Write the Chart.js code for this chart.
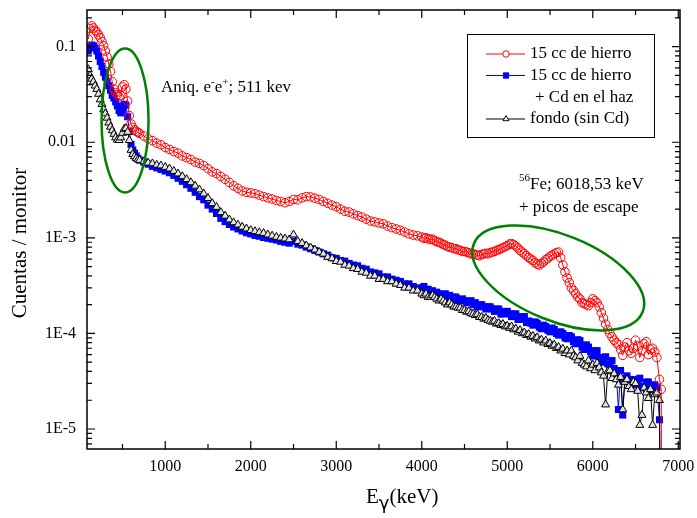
<!DOCTYPE html>
<html>
<head>
<meta charset="utf-8">
<script src="https://cdn.jsdelivr.net/npm/chart.js@4.4.0/dist/chart.umd.min.js"></script>
<style>
  body { margin: 0; background: #fff; }
  canvas { display: block; }
</style>
</head>
<body>
<canvas id="espectro" width="697" height="518"></canvas>
<script>
// Energías (keV) de los canales
var energia = [
  100, 120, 140, 160, 180, 200, 220, 240, 260, 280,
  300, 320, 340, 360, 380, 400, 420, 440, 460, 480,
  500, 520, 540, 560, 580, 600, 620, 640, 660, 680,
  700,
  750, 800, 850, 900, 950, 1000, 1050, 1100, 1150, 1200,
  1250, 1300, 1350, 1400, 1450, 1500, 1550, 1600, 1650, 1700,
  1750, 1800, 1850, 1900, 1950, 2000, 2050, 2100, 2150, 2200,
  2250, 2300, 2350, 2400, 2450, 2500, 2550, 2600, 2650, 2700,
  2750, 2800, 2850, 2900, 2950, 3000, 3050, 3100, 3150, 3200,
  3250, 3300, 3350, 3400, 3450, 3500, 3550, 3600, 3650, 3700,
  3750, 3800, 3850, 3900, 3950,
  4000, 4025, 4050, 4075, 4100, 4125, 4150, 4175, 4200, 4225,
  4250, 4275, 4300, 4325, 4350, 4375, 4400, 4425, 4450, 4475,
  4500, 4525, 4550, 4575, 4600, 4625, 4650, 4675, 4700, 4725,
  4750, 4775, 4800, 4825, 4850, 4875, 4900, 4925, 4950, 4975,
  5000, 5025, 5050, 5075, 5100, 5125, 5150, 5175, 5200, 5225,
  5250, 5275, 5300, 5325, 5350, 5375, 5400, 5425, 5450, 5475,
  5500, 5525, 5550, 5575, 5600, 5625, 5650, 5675, 5700, 5725,
  5750, 5775, 5800, 5825, 5850, 5875, 5900, 5925, 5950, 5975,
  6000, 6025, 6050, 6075, 6100, 6125, 6150, 6175, 6200, 6225,
  6250, 6275, 6300, 6325, 6350, 6375, 6400, 6425, 6450, 6475,
  6500, 6525, 6550, 6575, 6600, 6625, 6650, 6675, 6700, 6725,
  6750, 6780, 6800, 6810
];

// 15 cc de hierro
var hierro = [
  0.12, 0.155, 0.165, 0.157, 0.148, 0.142, 0.133, 0.124, 0.113, 0.102,
  0.09, 0.078, 0.066, 0.055, 0.043, 0.036, 0.033, 0.0315, 0.030, 0.031,
  0.038, 0.040, 0.036, 0.027, 0.019, 0.0155, 0.0143, 0.0135, 0.013, 0.0127,
  0.0124,
  0.0116, 0.0109, 0.0104, 0.0098, 0.0094, 0.0088, 0.0084, 0.0080, 0.0077, 0.0072,
  0.0069, 0.0066, 0.0062, 0.0060, 0.0057, 0.0053, 0.0049, 0.0047, 0.0044, 0.0041,
  0.0038, 0.0035, 0.0033, 0.0031, 0.0030, 0.00295, 0.0029, 0.0028, 0.0027, 0.00262,
  0.00255, 0.00246, 0.0024, 0.00233, 0.0024, 0.00252, 0.0025, 0.00262, 0.0027, 0.00268,
  0.0026, 0.00252, 0.0024, 0.0023, 0.0022, 0.00212, 0.0020, 0.0019, 0.00186, 0.00178,
  0.00171, 0.00165, 0.00157, 0.0015, 0.00147, 0.00143, 0.0014, 0.00133, 0.00128, 0.00124,
  0.0012, 0.00115, 0.0011, 0.00107, 0.00105,
  0.00102, 0.00099, 0.001, 0.00098, 0.00096, 0.00097, 0.00094, 0.00091, 0.0009, 0.00088,
  0.00085, 0.00084, 0.00081, 0.0008, 0.00079, 0.00077, 0.00077, 0.00075, 0.00074, 0.00072,
  0.00072, 0.00071, 0.0007, 0.00068, 0.00068, 0.00067, 0.00066, 0.00065, 0.00067, 0.00068,
  0.00069, 0.00068, 0.0007, 0.00071, 0.00072, 0.00074, 0.00075, 0.00077, 0.00079, 0.00081,
  0.00083, 0.00086, 0.00087, 0.00085, 0.00082, 0.00078, 0.00074, 0.00071, 0.00068, 0.00065,
  0.00062, 0.0006, 0.00058, 0.00055, 0.00053, 0.00052, 0.00054, 0.00056, 0.00059, 0.00061,
  0.00064, 0.00066, 0.00068, 0.0007, 0.00071, 0.00062, 0.00052, 0.00044, 0.00038, 0.00034,
  0.0003, 0.00028, 0.00026, 0.00024, 0.00023, 0.00021, 0.000205, 0.0002, 0.000195, 0.00021,
  0.00023, 0.00022, 0.00021, 0.00019, 0.000165, 0.000145, 0.000125, 0.00011, 0.0001, 0.000092,
  0.000085, 0.00008, 0.000076, 0.000068, 0.000059, 0.000072, 0.00008, 0.000066, 0.000062, 0.00007,
  0.000085, 0.000074, 0.000056, 0.000066, 0.000078, 0.000082, 0.00006, 0.000068, 0.00007, 0.000064,
  0.000056, 0.000033, 0.000026, 1e-7
];

// 15 cc de hierro + Cd en el haz
var hierroCd = [
  0.09, 0.1, 0.104, 0.102, 0.097, 0.09, 0.08, 0.07, 0.062, 0.054,
  0.048, 0.043, 0.039, 0.035, 0.031, 0.029, 0.0265, 0.024, 0.0215, 0.0203,
  0.022, 0.025, 0.0245, 0.0185, 0.013, 0.0095, 0.0083, 0.0077, 0.0072, 0.0068,
  0.0065,
  0.0062, 0.0059, 0.0056, 0.0054, 0.0052, 0.0050, 0.0048, 0.0045, 0.0042, 0.0039,
  0.0036, 0.0033, 0.0030, 0.0027, 0.0025, 0.0022, 0.0020, 0.0018, 0.0016, 0.00148,
  0.00138, 0.0013, 0.00124, 0.00118, 0.00113, 0.0011, 0.00106, 0.00104, 0.00101, 0.00099,
  0.00097, 0.00095, 0.00092, 0.0009, 0.00088, 0.00092, 0.00086, 0.00084, 0.0008, 0.00077,
  0.00074, 0.00071, 0.00068, 0.00066, 0.00062, 0.00061, 0.00058, 0.00057, 0.00054, 0.00052,
  0.00051, 0.00048, 0.00047, 0.00044, 0.00043, 0.00042, 0.00039, 0.00039, 0.00037, 0.00036,
  0.00035, 0.00033, 0.00033, 0.00031, 0.0003,
  0.00029, 0.00031, 0.00028, 0.00029, 0.00027, 0.00028, 0.00026, 0.00027, 0.00026, 0.00025,
  0.00025, 0.00026, 0.00024, 0.00025, 0.00023, 0.00024, 0.00024, 0.00022, 0.00022, 0.00023,
  0.00022, 0.00021, 0.00021, 0.00022, 0.0002, 0.00021, 0.00019, 0.0002, 0.0002, 0.00019,
  0.00018, 0.00019, 0.00019, 0.00018, 0.00017, 0.00018, 0.00018, 0.00016, 0.00016, 0.00017,
  0.00017, 0.00016, 0.00015, 0.00016, 0.00016, 0.00014, 0.00014, 0.00015, 0.00015, 0.00013,
  0.000135, 0.000128, 0.000122, 0.000132, 0.000128, 0.000116, 0.000112, 0.000122, 0.000118, 0.000108,
  0.000104, 0.000114, 0.00011, 0.0001, 0.000096, 0.000104, 0.0001, 0.00009, 0.000088, 0.000095,
  0.000092, 0.000082, 0.000078, 0.000086, 0.000084, 0.000072, 0.000068, 0.000076, 0.000072, 0.000064,
  0.000058, 0.000066, 0.000066, 0.000056, 0.00005, 0.000056, 0.000057, 0.000048, 0.000045, 0.000052,
  0.000043, 0.000038, 0.000016, 0.000041, 0.000014, 0.000034, 0.000036, 0.000031, 0.000033, 0.000029,
  0.000029, 0.000033, 0.000034, 0.000028, 0.000027, 0.000031, 0.000031, 0.000026, 0.000026, 0.000029,
  0.000027, 0.0000125, 1e-7, 1e-7
];

// fondo (sin Cd)
var fondo = [
  0.058, 0.05, 0.046, 0.043, 0.039, 0.036, 0.032, 0.028, 0.025, 0.022,
  0.02, 0.018, 0.016, 0.0145, 0.0133, 0.0122, 0.0112, 0.0106, 0.0105, 0.0112,
  0.0125, 0.0138, 0.014, 0.0128, 0.0105, 0.0083, 0.0075, 0.0071, 0.0068, 0.0066,
  0.0065,
  0.0063, 0.0061, 0.006, 0.0058, 0.0057, 0.0055, 0.0053, 0.005, 0.0047, 0.0044,
  0.0041, 0.0038, 0.0035, 0.0032, 0.0029, 0.0026, 0.0023, 0.0021, 0.00185, 0.0017,
  0.00155, 0.00145, 0.00137, 0.0013, 0.00125, 0.0012, 0.00117, 0.00114, 0.00112, 0.00108,
  0.00105, 0.00102, 0.001, 0.00098, 0.00096, 0.00108, 0.00092, 0.00088, 0.00083, 0.00079,
  0.00075, 0.00071, 0.00068, 0.00063, 0.00061, 0.00057, 0.00056, 0.00052, 0.00051, 0.00048,
  0.00047, 0.00044, 0.00043, 0.0004, 0.0004, 0.00037, 0.00037, 0.00035, 0.00035, 0.00033,
  0.00032, 0.0003, 0.0003, 0.00028, 0.00028,
  0.00026, 0.00025, 0.00026, 0.00024, 0.00024, 0.00025, 0.00024, 0.00023, 0.00022, 0.00023,
  0.00022, 0.00021, 0.0002, 0.00021, 0.0002, 0.00019, 0.00019, 0.000185, 0.000185, 0.000175,
  0.000175, 0.000168, 0.00017, 0.000162, 0.00016, 0.000155, 0.000158, 0.000148, 0.000148, 0.000142,
  0.000145, 0.000138, 0.000135, 0.000132, 0.000135, 0.000126, 0.000128, 0.000122, 0.000125, 0.000118,
  0.00012, 0.000114, 0.000118, 0.00011, 0.000112, 0.000104, 0.000108, 0.0001, 0.000102, 0.000096,
  0.000098, 0.000092, 0.000094, 0.000088, 0.000091, 0.000084, 0.000086, 0.00008, 0.000084, 0.000077,
  0.000079, 0.000074, 0.000076, 0.00007, 0.000072, 0.000066, 0.000069, 0.000062, 0.000066, 0.00006,
  0.000066, 0.000058, 0.000056, 0.000052, 0.000058, 0.000049, 0.000047, 0.000045, 0.000052, 0.000043,
  0.000047, 0.000041, 0.000049, 0.000044, 0.000039, 0.000036, 0.000018, 0.00004, 0.000041, 0.000034,
  0.000038, 0.000033, 0.000029, 0.000035, 0.000016, 0.000031, 0.000033, 0.000028, 0.000026, 0.000031,
  0.00003, 0.000025, 0.000011, 0.000014, 0.000027, 0.000024, 0.000021, 0.000026, 0.000011, 0.000023,
  0.000024, 0.00002, 1e-7, 1e-7
];

var etiquetasY = { '-1': '0.1', '-2': '0.01', '-3': '1E-3', '-4': '1E-4', '-5': '1E-5' };

var fuente = '"Liberation Serif", "Times New Roman", serif';
Chart.defaults.font.family = fuente;
Chart.defaults.color = '#000';

function puntos(valores) {
  return energia.map(function (e, i) { return { x: e, y: valores[i] }; });
}

// es potencia de 10?
function exponente(v) {
  var l = Math.log10(v);
  return Math.abs(l - Math.round(l)) < 1e-6 ? Math.round(l) : null;
}

// mantisa entera 1..9 (descarta 1.5, los bordes, etc.)
function esMarca(v) {
  var e = Math.floor(Math.log10(v) + 1e-9);
  var m = v / Math.pow(10, e);
  return Math.abs(m - Math.round(m)) < 1e-6;
}

// texto con super/subíndices
function textoTramos(ctx, x, y, tramos) {
  tramos.forEach(function (t) {
    ctx.font = t.size + 'px ' + (t.familia || fuente);
    ctx.fillText(t.t, x, y + (t.dy || 0));
    x += ctx.measureText(t.t).width + (t.sep || 0);
  });
}

var extras = {
  id: 'extras',
  afterDatasetsDraw: function (chart) {
    var ctx = chart.ctx, a = chart.chartArea, sx = chart.scales.x, sy = chart.scales.y;
    ctx.save();

    // elipses verdes
    ctx.strokeStyle = 'rgb(0,128,0)';
    ctx.lineWidth = 2.5;
    ctx.beginPath();
    ctx.ellipse(sx.getPixelForValue(530), sy.getPixelForValue(0.0169), 23.5, 72, 0, 0, Math.PI * 2);
    ctx.stroke();
    ctx.beginPath();
    ctx.ellipse(sx.getPixelForValue(5596), sy.getPixelForValue(0.000381), 91, 43, 22 * Math.PI / 180, 0, Math.PI * 2);
    ctx.stroke();

    // marco
    ctx.strokeStyle = '#000';
    ctx.lineWidth = 1.5;
    ctx.strokeRect(a.left, a.top, a.right - a.left, a.bottom - a.top);

    // marcas hacia dentro en los cuatro lados
    ctx.lineWidth = 1.2;
    ctx.beginPath();
    sx.ticks.forEach(function (t) {
      var px = sx.getPixelForValue(t.value);
      if (px <= a.left + 1 || px >= a.right - 1) return;
      var l = t.value % 1000 === 0 ? 8 : 5;
      ctx.moveTo(px, a.bottom); ctx.lineTo(px, a.bottom - l);
      ctx.moveTo(px, a.top); ctx.lineTo(px, a.top + l);
    });
    sy.ticks.forEach(function (t) {
      if (!esMarca(t.value)) return;
      var py = sy.getPixelForValue(t.value);
      if (py < a.top || py > a.bottom) return;
      var l = exponente(t.value) !== null ? 8 : 5;
      ctx.moveTo(a.left, py); ctx.lineTo(a.left + l, py);
      ctx.moveTo(a.right, py); ctx.lineTo(a.right - l, py);
    });
    ctx.stroke();

    // títulos de ejes
    ctx.fillStyle = '#000';
    ctx.textBaseline = 'alphabetic';
    textoTramos(ctx, 366, 503, [
      { t: 'E', size: 21 },
      { t: 'γ', size: 18, dy: 6, familia: '"DejaVu Sans", sans-serif' },
      { t: '(keV)', size: 21 }
    ]);
    ctx.save();
    ctx.translate(20, 243);
    ctx.rotate(-Math.PI / 2);
    ctx.font = '21px ' + fuente;
    ctx.textAlign = 'center';
    ctx.textBaseline = 'middle';
    ctx.fillText('Cuentas / monitor', 0, 0);
    ctx.restore();

    // anotaciones
    textoTramos(ctx, 161, 92, [
      { t: 'Aniq. e', size: 17 },
      { t: '-', size: 11, dy: -7 },
      { t: 'e', size: 17 },
      { t: '+', size: 11, dy: -7 },
      { t: '; 511 kev', size: 17 }
    ]);
    textoTramos(ctx, 519, 189, [
      { t: '56', size: 11, dy: -8 },
      { t: 'Fe; 6018,53 keV', size: 17 }
    ]);
    textoTramos(ctx, 519, 212, [{ t: '+ picos de escape', size: 17 }]);

    // leyenda
    var L = { x: 467.5, y: 34.5, w: 187, h: 103 };
    ctx.fillStyle = '#fff';
    ctx.fillRect(L.x, L.y, L.w, L.h);
    ctx.strokeStyle = '#000';
    ctx.lineWidth = 1;
    ctx.strokeRect(L.x, L.y, L.w, L.h);
    var filas = [
      { y: 54, ds: chart.data.datasets[0], texto: '15 cc de hierro', fondo: '#fff' },
      { y: 75.5, ds: chart.data.datasets[2], texto: '15 cc de hierro' },
      { y: 119, ds: chart.data.datasets[1], texto: 'fondo (sin Cd)', fondo: '#fff' }
    ];
    ctx.textBaseline = 'middle';
    filas.forEach(function (f) {
      ctx.strokeStyle = f.ds.borderColor;
      ctx.lineWidth = 1;
      ctx.beginPath();
      ctx.moveTo(486, f.y); ctx.lineTo(525, f.y);
      ctx.stroke();
      ctx.fillStyle = f.fondo || f.ds.backgroundColor;
      Chart.helpers.drawPoint(ctx, {
        pointStyle: f.ds.pointStyle, radius: f.ds.pointRadius * 0.75,
        borderWidth: 1, rotation: 0
      }, 506, f.y);
      ctx.fillStyle = '#000';
      ctx.font = '17px ' + fuente;
      ctx.fillText(f.texto, 530, f.y);
    });
    ctx.fillText('+ Cd en el haz', 535, 97.5);
    ctx.restore();
  }
};

new Chart(document.getElementById('espectro'), {
  type: 'scatter',
  data: {
    datasets: [
      {
        label: '15 cc de hierro',
        data: puntos(hierro),
        showLine: true,
        borderColor: 'rgb(255,0,0)',
        backgroundColor: 'rgba(255,255,255,0)',
        borderWidth: 1,
        pointStyle: 'circle',
        pointRadius: 4.3,
        pointBorderWidth: 1,
        order: 0
      },
      {
        label: 'fondo (sin Cd)',
        data: puntos(fondo),
        showLine: true,
        borderColor: '#000',
        backgroundColor: '#e4e4e4',
        borderWidth: 1,
        pointStyle: 'triangle',
        pointRadius: 4.6,
        pointBorderWidth: 1,
        order: 1
      },
      {
        label: '15 cc de hierro + Cd en el haz',
        data: puntos(hierroCd),
        showLine: true,
        borderColor: 'rgb(0,0,255)',
        backgroundColor: 'rgb(0,0,255)',
        borderWidth: 1,
        pointStyle: 'rect',
        pointRadius: 5,
        pointBorderWidth: 0,
        order: 2
      }
    ]
  },
  options: {
    responsive: false,
    animation: false,
    devicePixelRatio: 1,
    layout: { padding: { top: 10, right: 17, left: 0, bottom: 0 } },
    plugins: { legend: { display: false }, tooltip: { enabled: false } },
    scales: {
      x: {
        type: 'linear',
        min: 85,
        max: 7020,
        grid: { display: false },
        border: { display: false },
        afterFit: function (s) { s.height = 69; s.paddingLeft = 0; s.paddingRight = 0; },
        // marcas cada 500 keV, etiqueta cada 1000
        afterBuildTicks: function (s) {
          var t = [];
          for (var v = 500; v <= 7000; v += 500) t.push({ value: v });
          s.ticks = t;
        },
        ticks: {
          autoSkip: false,
          maxRotation: 0,
          padding: 0,
          font: { size: 16 },
          callback: function (v) { return v % 1000 === 0 ? String(v) : ''; }
        }
      },
      y: {
        type: 'logarithmic',
        min: 6.18e-6,
        max: 0.242,
        grid: { display: false },
        border: { display: false },
        afterFit: function (s) { s.width = 87; s.paddingTop = 0; s.paddingBottom = 0; },
        ticks: {
          autoSkip: false,
          padding: 3,
          font: { size: 16 },
          callback: function (v) {
            var e = exponente(v);
            return e !== null && etiquetasY[e] ? etiquetasY[e] : '';
          }
        }
      }
    }
  },
  plugins: [extras]
});
</script>
</body>
</html>
